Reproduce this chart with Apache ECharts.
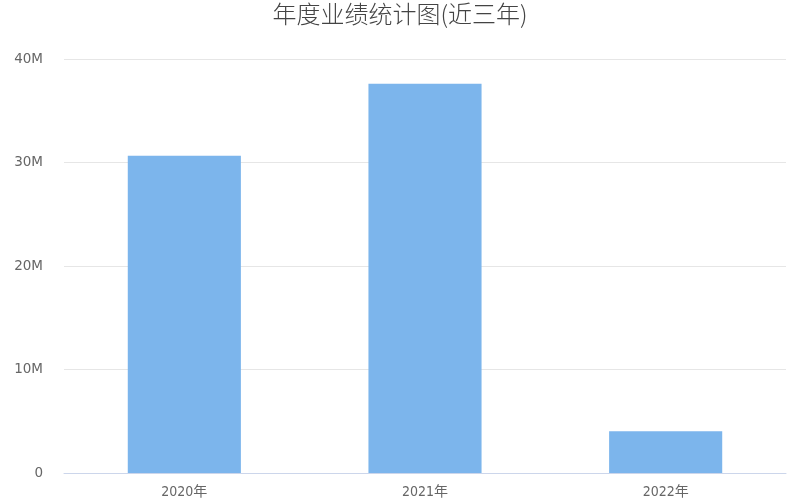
<!DOCTYPE html>
<html><head><meta charset="utf-8">
<script src="https://cdn.jsdelivr.net/npm/echarts@6/dist/echarts.min.js"></script>
<style>html,body{margin:0;padding:0;background:#fff}#c{width:800px;height:500px}</style>
</head><body><div id="c"></div>
<script>
const categories = ['2020年', '2021年', '2022年'];
const values = [30660000, 37600000, 4030000];
const yTicks = [0, 10000000, 20000000, 30000000, 40000000];

const chart = echarts.init(document.getElementById('c'), null, {renderer: 'canvas'});
chart.setOption({
  animation: false,
  title: {
    text: '年度业绩统计图(近三年)',
    left: 'center', top: -3,
    textStyle: {fontFamily: 'Noto Sans CJK SC', fontWeight: 300, fontSize: 24, color: '#444'}
  },
  grid: {left: 64, right: 14, top: 59, bottom: 27, containLabel: false},
  xAxis: {
    type: 'category', data: categories,
    axisLine: {lineStyle: {color: '#ccd6eb'}},
    axisTick: {show: false},
    axisLabel: {color: '#666', fontSize: 14, margin: 12, fontFamily: 'DejaVu Sans Condensed, Noto Sans CJK SC'}
  },
  yAxis: {
    type: 'value', min: yTicks[0], max: yTicks[yTicks.length - 1], interval: 10000000,
    axisLine: {show: false}, axisTick: {show: false},
    splitLine: {lineStyle: {color: '#e6e6e6'}},
    axisLabel: {
      color: '#666', fontSize: 13.5, margin: 21, fontFamily: 'DejaVu Sans',
      formatter: v => v === 0 ? '0' : (v / 1000000) + 'M'
    }
  },
  series: [{
    type: 'bar', data: values, barWidth: '47%',
    itemStyle: {color: '#7cb5ec'}
  }]
});
</script></body></html>
